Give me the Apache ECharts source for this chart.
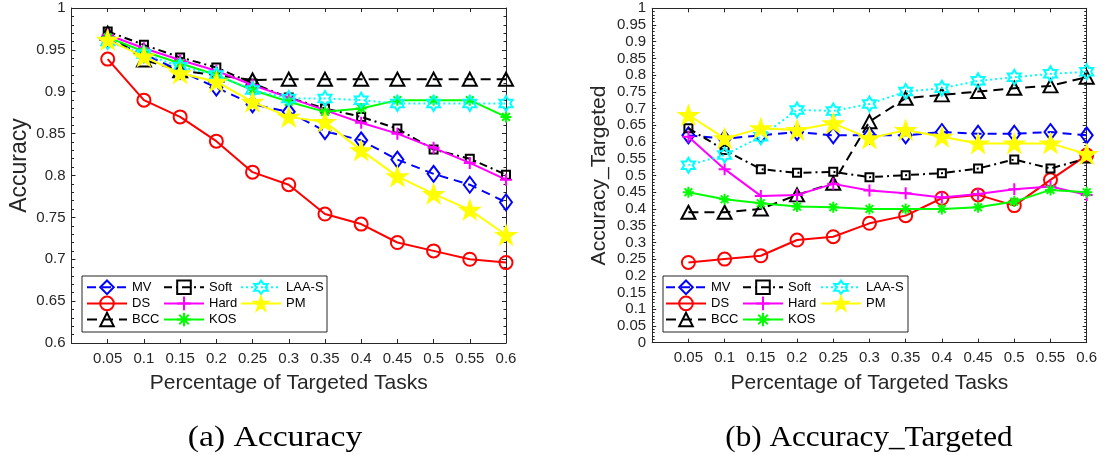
<!DOCTYPE html>
<html><head><meta charset="utf-8">
<script src="https://cdn.jsdelivr.net/npm/echarts@6/dist/echarts.min.js"></script>
<style>html,body{margin:0;padding:0;background:#fff}#c{width:1104px;height:455px}</style>
</head><body><div id="c"></div>
<script>
// ---- data ----
const pct = [0.05, 0.1, 0.15, 0.2, 0.25, 0.3, 0.35, 0.4, 0.45, 0.5, 0.55, 0.6];
const methods = ['MV', 'DS', 'BCC', 'Soft', 'Hard', 'KOS', 'LAA-S', 'PM'];

// (a) Accuracy
const accMV   = [0.962, 0.945, 0.925, 0.905, 0.885, 0.876, 0.853, 0.842, 0.819, 0.802, 0.789, 0.768];
const accDS   = [0.939, 0.890, 0.870, 0.841, 0.804, 0.789, 0.754, 0.742, 0.720, 0.710, 0.700, 0.696];
const accBCC  = [0.970, 0.938, 0.925, 0.920, 0.914, 0.915, 0.915, 0.915, 0.915, 0.915, 0.915, 0.915];
const accSoft = [0.972, 0.956, 0.941, 0.929, 0.910, 0.893, 0.880, 0.870, 0.856, 0.831, 0.820, 0.801];
const accHard = [0.968, 0.952, 0.938, 0.925, 0.908, 0.893, 0.878, 0.863, 0.850, 0.833, 0.815, 0.795];
const accKOS  = [0.965, 0.948, 0.934, 0.920, 0.902, 0.888, 0.876, 0.880, 0.890, 0.890, 0.890, 0.870];
const accLAAS = [0.960, 0.945, 0.930, 0.920, 0.902, 0.892, 0.892, 0.890, 0.886, 0.886, 0.886, 0.886];
const accPM   = [0.962, 0.942, 0.922, 0.912, 0.888, 0.870, 0.864, 0.830, 0.799, 0.778, 0.759, 0.729];

// (b) Accuracy_Targeted
const tgtMV   = [0.620, 0.610, 0.620, 0.630, 0.620, 0.620, 0.620, 0.630, 0.625, 0.625, 0.630, 0.620];
const tgtDS   = [0.240, 0.250, 0.260, 0.307, 0.317, 0.357, 0.380, 0.432, 0.442, 0.410, 0.487, 0.561];
const tgtBCC  = [0.390, 0.390, 0.400, 0.442, 0.477, 0.661, 0.731, 0.741, 0.751, 0.761, 0.768, 0.794];
const tgtSoft = [0.641, 0.576, 0.519, 0.508, 0.511, 0.495, 0.501, 0.507, 0.521, 0.548, 0.521, 0.551];
const tgtHard = [0.616, 0.519, 0.439, 0.442, 0.475, 0.455, 0.447, 0.434, 0.445, 0.459, 0.467, 0.442];
const tgtKOS  = [0.450, 0.429, 0.417, 0.407, 0.405, 0.400, 0.400, 0.400, 0.405, 0.422, 0.457, 0.450];
const tgtLAAS = [0.531, 0.561, 0.616, 0.696, 0.693, 0.714, 0.751, 0.761, 0.783, 0.794, 0.804, 0.810];
const tgtPM   = [0.681, 0.611, 0.641, 0.636, 0.656, 0.611, 0.636, 0.616, 0.596, 0.596, 0.596, 0.564];

const accData = [accMV, accDS, accBCC, accSoft, accHard, accKOS, accLAAS, accPM];
const tgtData = [tgtMV, tgtDS, tgtBCC, tgtSoft, tgtHard, tgtKOS, tgtLAAS, tgtPM];

const xTitle = 'Percentage of Targeted Tasks';
const yTitles = ['Accuracy', 'Accuracy_Targeted'];
const captions = ['(a) Accuracy', '(b) Accuracy_Targeted'];
const xRange = [0, 0.6, 0.05];
const yRanges = [[0.6, 1, 0.05], [0, 1, 0.05]];

// ---- styles ----
const PLUS = 'path://M5,0L5,10M0,5L10,5';
const AST = 'path://M5,0L5,10M0,5L10,5M1.5,1.5L8.5,8.5M1.5,8.5L8.5,1.5';
const HEX = 'path://M5,0L6.443,2.5L9.33,2.5L7.887,5L9.33,7.5L6.443,7.5L5,10L3.557,7.5L0.67,7.5L2.113,5L0.67,2.5L3.557,2.5Z';
const PENT = 'path://M5,0L6.123,3.455L9.755,3.455L6.816,5.59L7.939,9.045L5,6.91L2.061,9.045L3.184,5.59L0.245,3.455L3.877,3.455Z';
const styles = [
  {c:'#0000ff', s:'diamond', z:[12,16], fill:false, d:[9,6]},
  {c:'#ff0000', s:'circle', z:13, fill:false, d:'solid'},
  {c:'#000000', s:'triangle', z:[14,13], fill:false, d:[10,6]},
  {c:'#000000', s:'rect', z:8, fill:false, d:[8,4,2,4]},
  {c:'#ff00ff', s:PLUS, z:12, fill:false, d:'solid'},
  {c:'#00ff00', s:AST, z:11, fill:false, d:'solid'},
  {c:'#00ffff', s:HEX, z:15, fill:false, d:[2,3]},
  {c:'#ffff00', s:PENT, z:18, fill:true, d:'solid'}
];

const TXT = '#262626';
const FONT = 'Liberation Sans';
const fmt = v => String(+(+v).toFixed(2));

const grids = [
  {left: 71.5, top: 8, width: 434.5, height: 335},
  {left: 652.2, top: 8.3, width: 434.5, height: 334.4}
];

const xAxes = [], yAxes = [];
grids.forEach((g, gi) => {
  const base = {gridIndex: gi, type: 'value', min: xRange[0], max: xRange[1], interval: xRange[2],
    axisLine: {show: true, onZero: false, lineStyle: {color: TXT, width: 1}},
    axisTick: {show: true, inside: true, length: 4, lineStyle: {color: TXT}},
    splitLine: {show: false}};
  xAxes.push(Object.assign({}, base, {position: 'bottom',
    axisLabel: {show: true, color: TXT, fontSize: 15, fontFamily: FONT, margin: 8,
      formatter: v => (v === 0 ? '' : fmt(v))},
    name: xTitle, nameLocation: 'middle', nameGap: 30,
    nameTextStyle: {color: TXT, fontSize: 21, fontFamily: FONT}}));
  xAxes.push(Object.assign({}, base, {position: 'top', axisLabel: {show: false}}));
  const yr = yRanges[gi];
  const ybase = {gridIndex: gi, type: 'value', min: yr[0], max: yr[1], interval: yr[2],
    axisLine: {show: true, onZero: false, lineStyle: {color: TXT, width: 1}},
    axisTick: {show: true, inside: true, length: 4, lineStyle: {color: TXT}},
    minorTick: {show: true, splitNumber: 5, length: 2.5, lineStyle: {color: TXT}},
    splitLine: {show: false}, minorSplitLine: {show: false}};
  yAxes.push(Object.assign({}, ybase, {position: 'left',
    axisLabel: {show: true, color: TXT, fontSize: 15, fontFamily: FONT, margin: 6, formatter: fmt},
    name: yTitles[gi], nameLocation: 'middle', nameGap: gi === 0 ? 40 : 42,
    nameTextStyle: gi === 0
      ? {color: TXT, fontSize: 23, fontFamily: FONT, padding: [0, 0, 0, 20]}
      : {color: TXT, fontSize: 21, fontFamily: FONT}}));
  yAxes.push(Object.assign({}, ybase, {position: 'right', axisLabel: {show: false}}));
});

const series = [];
[accData, tgtData].forEach((set, gi) => {
  set.forEach((vals, i) => {
    const st = styles[i];
    series.push({
      name: methods[i], type: 'line', xAxisIndex: gi * 2, yAxisIndex: gi * 2,
      data: pct.map((x, k) => [x, vals[k]]),
      symbol: st.s, symbolSize: st.z, symbolKeepAspect: true, showAllSymbol: true,
      lineStyle: {color: st.c, width: 2, type: st.d},
      itemStyle: {color: st.fill ? st.c : 'rgba(255,255,255,0)', borderColor: st.c, borderWidth: 2},
      emphasis: {disabled: true}, animation: false, z: 2 + i * 0.01
    });
  });
});

const legendCols = [[0, 1, 2], [3, 4, 5], [6, 7]];
const legendLefts = [[86, 163, 240], [665, 742, 820]];
const legends = [];
legendLefts.forEach(lefts => {
  legendCols.forEach((col, ci) => {
    legends.push({
      orient: 'vertical', left: lefts[ci], top: 279.5, padding: 0,
      itemWidth: 40, itemHeight: 17, itemGap: 0.5, selectedMode: false,
      data: col.map(i => methods[i]),
      textStyle: {color: '#000', fontSize: 13, fontFamily: FONT}
    });
  });
});

const graphic = [
  {type: 'rect', shape: {x: 82, y: 276, width: 245, height: 56}, style: {fill: '#fff', stroke: TXT, lineWidth: 1}, z: 3},
  {type: 'rect', shape: {x: 663, y: 276, width: 245, height: 56}, style: {fill: '#fff', stroke: TXT, lineWidth: 1}, z: 3},
  {type: 'text', x: 275, y: 438, scaleX: 1.12, style: {text: captions[0], fill: '#000', font: '30px "Liberation Serif"', textAlign: 'center', textVerticalAlign: 'middle'}},
  {type: 'text', x: 869, y: 438, scaleX: 1.04, style: {text: captions[1], fill: '#000', font: '30px "Liberation Serif"', textAlign: 'center', textVerticalAlign: 'middle'}}
];

const chart = echarts.init(document.getElementById('c'), null, {renderer: 'canvas'});
chart.setOption({
  backgroundColor: '#fff', animation: false,
  grid: grids, xAxis: xAxes, yAxis: yAxes, series: series, legend: legends, graphic: graphic
});
</script>
</body></html>
